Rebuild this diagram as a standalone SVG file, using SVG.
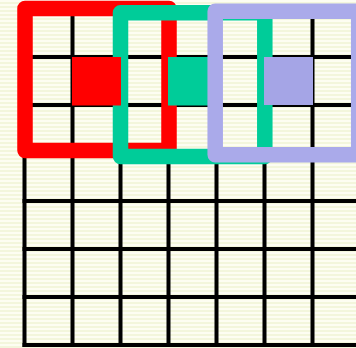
<svg xmlns="http://www.w3.org/2000/svg" width="356" height="348" viewBox="0 0 356 348">
<defs>
<pattern id="stripes" width="8" height="4" patternUnits="userSpaceOnUse">
<rect width="8" height="4" fill="#fdfdf2"/>
<rect y="2" width="8" height="2" fill="#f3f6dc"/>
</pattern>
</defs>
<style>
.grid line{stroke:#000;stroke-width:4}
.frame{fill:none;stroke-width:15.5;stroke-linejoin:round}
</style>
<rect width="356" height="348" fill="url(#stripes)"/>
<g id="grid" class="grid">
<line x1="24.5" y1="9" x2="24.5" y2="347"/>
<line x1="72.5" y1="9" x2="72.5" y2="347"/>
<line x1="120.5" y1="9" x2="120.5" y2="347"/>
<line x1="168.5" y1="9" x2="168.5" y2="347"/>
<line x1="216.5" y1="9" x2="216.5" y2="347"/>
<line x1="264.5" y1="9" x2="264.5" y2="347"/>
<line x1="312.5" y1="9" x2="312.5" y2="347"/>
<line x1="22.5" y1="9" x2="356" y2="9"/>
<line x1="22.5" y1="57" x2="356" y2="57"/>
<line x1="22.5" y1="105" x2="356" y2="105"/>
<line x1="22.5" y1="153" x2="356" y2="153"/>
<line x1="22.5" y1="201" x2="356" y2="201"/>
<line x1="22.5" y1="249" x2="356" y2="249"/>
<line x1="22.5" y1="297" x2="356" y2="297"/>
<line x1="22.5" y1="345" x2="356" y2="345"/>
</g>
<g id="red-window">
<rect class="frame" x="25" y="8.5" width="144" height="142" stroke="#ff0000"/>
</g>
<g id="teal-window">
<rect class="frame" x="120.5" y="12.8" width="144.3" height="143.7" stroke="#00cc99"/>
</g>
<g id="red-cell">
<rect x="72" y="57" width="49" height="48.5" fill="#ff0000"/>
</g>
<g id="teal-cell">
<rect x="168" y="57" width="49" height="48.5" fill="#00cc99"/>
</g>
<g id="lavender-window">
<rect class="frame" x="215.2" y="11.2" width="143.5" height="143.5" stroke="#aaaaea"/>
</g>
<g id="lavender-cell">
<rect x="264" y="57" width="49" height="48" fill="#a5a5e6"/>
</g>
</svg>
